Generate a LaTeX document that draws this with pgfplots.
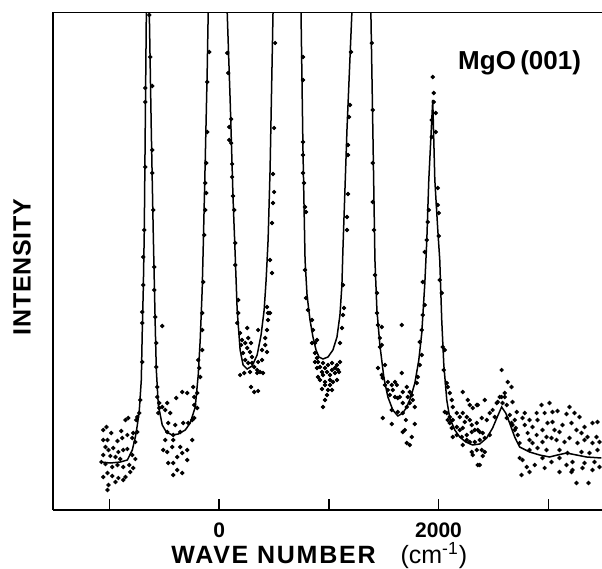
\documentclass[border=0pt]{standalone}
\usepackage{fontspec}
\setmainfont{Liberation Sans}
\usepackage{pgfplots}
\pgfplotsset{compat=1.18}

% measured points (wave number in cm^-1, intensity in arbitrary units)
\pgfplotstableread{
x y
-1028 83
-1056 80
-983 77
-892 79
-855 90
-828 92
-783 77
-1056 70
-1019 70
-928 69
-883 72
-837 75
-792 72
-764 68
-1037 63
-1010 60
-965 62
-919 58
-874 60
-837 61
-1056 55
-992 54
-946 53
-901 51
-792 55
-764 51
-1074 48
-1037 46
-974 43
-928 45
-874 43
-819 45
-783 42
-1019 37
-974 34
-919 32
-855 33
-810 38
-1056 33
-946 28
-874 30
-1010 25
-1019 20
-746 78
-755 90
-746 93
-728 97
-719 110
-701 148
-701 187
-701 198
-692 225
-692 253
-683 280
-673 343
-673 408
-673 422
-637 495
-628 453
-610 424
-610 360
-610 337
-601 300
-592 243
-592 220
-582 193
-573 167
-573 143
-564 123
-564 113
-546 107
-546 102
-555 97
-519 184
-519 103
-473 107
-491 100
-446 97
-464 87
-391 112
-337 118
-291 117
-237 123
-228 113
-191 150
-182 142
-173 133
-200 102
-228 92
-246 90
-282 87
-328 87
-355 78
-400 85
-419 75
-419 70
-428 63
-473 78
-491 70
-510 60
-473 58
-464 47
-419 47
-382 53
-355 63
-337 57
-291 60
-291 50
-246 70
-337 37
-419 35
-382 40
-155 160
-155 180
-146 228
-155 197
-200 117
-228 105
-91 458
-109 428
-109 378
-118 347
-127 327
-118 317
-127 300
-137 275
73 457
82 437
109 391
91 383
91 370
109 367
118 346
118 333
127 314
137 300
146 267
146 245
173 210
173 197
164 187
191 177
209 170
255 182
200 165
237 167
264 172
255 162
291 167
282 158
218 157
237 150
300 153
300 147
264 147
191 135
228 137
282 138
319 143
346 140
355 148
373 138
400 137
346 137
391 150
419 165
437 158
419 172
437 180
355 180
437 203
446 197
464 197
446 190
291 123
319 118
355 119
464 250
482 237
391 160
510 467
501 382
491 336
501 318
491 307
482 287
764 453
764 430
764 368
764 355
764 337
774 327
783 303
792 298
783 240
792 212
810 200
846 190
855 180
846 167
874 167
892 170
874 157
892 152
901 148
874 148
919 143
946 147
965 142
992 145
1028 147
1074 145
1101 148
892 142
937 138
983 138
1028 140
1056 142
1083 140
901 133
946 135
1010 135
1056 137
1092 138
919 130
965 128
1010 130
1037 128
1074 130
965 125
1010 125
937 121
992 120
1028 120
983 115
965 110
946 103
1101 167
1119 182
1128 195
1138 202
1128 225
1201 458
1192 405
1183 393
1174 365
1174 355
1174 316
1165 293
1165 280
1392 467
1401 400
1401 347
1401 308
1411 280
1420 235
1438 217
1447 185
1465 172
1438 197
1483 183
1465 163
1483 165
1447 142
1511 145
1483 135
1492 132
1538 128
1511 125
1574 125
1602 128
1538 120
1583 120
1620 125
1556 115
1602 113
1629 112
1647 113
1674 118
1711 123
1738 118
1756 115
1720 113
1765 110
1674 107
1711 103
1738 107
1784 103
1574 100
1629 98
1674 97
1492 92
1574 86
1702 90
1784 86
1674 78
1693 80
1756 73
1711 67
1738 65
1665 185
1665 137
1802 127
1811 133
1829 145
1829 168
1847 180
1856 195
1875 205
1847 155
1856 228
1875 258
1947 433
1957 417
1957 408
1975 397
1938 390
1975 378
1938 373
1911 300
1902 288
1893 270
1993 322
1993 305
2002 297
2002 274
2011 230
2029 217
2038 163
2057 160
2075 127
2084 123
2048 140
2102 117
2220 118
2120 110
2057 98
2129 103
2166 97
2102 93
2084 90
2102 87
2129 90
2193 93
2220 97
2257 93
2284 105
2311 102
2357 105
2421 110
2239 88
2284 90
2302 85
2348 87
2393 92
2439 90
2466 97
2493 100
2512 93
2530 107
2539 108
2575 113
2603 117
2584 107
2621 105
2630 128
2666 123
2575 140
2120 82
2166 83
2193 80
2220 82
2166 75
2211 73
2257 75
2302 78
2330 80
2357 80
2375 78
2402 77
2257 70
2284 68
2330 68
2375 70
2421 72
2466 75
2302 58
2348 60
2393 60
2421 58
2402 54
2311 55
2357 45
2648 95
2675 85
2694 80
2666 87
2621 92
2557 113
2603 113
2675 108
2348 105
2266 110
2075 97
2129 73
2220 65
2375 45
2939 105
3012 107
3194 103
2712 98
2785 97
2894 97
2967 97
3039 98
3085 99
3167 96
3240 97
3285 93
3403 87
3449 88
2694 90
2766 92
2830 90
2903 90
2994 87
3039 88
3130 85
3212 87
3331 83
2703 82
2785 85
2857 83
2948 80
3058 80
3103 78
3258 80
3303 77
3358 73
3440 73
2721 75
2812 77
2894 75
2985 73
3030 72
3076 70
3149 68
3194 72
3267 67
3331 70
3403 67
3467 68
2739 67
2830 70
2857 67
2948 68
2830 60
2903 62
2985 60
3103 60
3176 57
3303 58
3376 57
3449 60
2766 50
2948 52
3030 48
3103 52
3221 48
3331 47
3422 48
2803 43
2876 45
2967 42
3167 45
3221 40
3312 42
3403 40
3467 43
2757 35
2830 38
3103 38
3212 38
3258 27
3367 27
2739 52
}\measured

% fitted curve
\pgfplotstableread{
x y
-1083 48
-992 47
-901 48
-837 50
-792 60
-764 73
-746 85
-728 100
-710 130
-701 180
-692 220
-683 277
-664 498
-652 560
-637 498
-619 380
-601 277
-582 180
-573 140
-555 105
-519 85
-482 78
-428 75
-373 76
-309 80
-264 87
-218 103
-191 135
-173 170
-155 220
-146 260
-127 350
-109 440
-100 498
-20 790
73 498
100 410
127 310
146 255
164 200
191 160
218 145
255 141
300 144
346 155
382 175
410 200
428 230
446 270
464 340
491 498
619 1010
746 498
764 360
783 250
801 215
828 190
855 173
883 160
910 153
946 151
992 153
1037 160
1074 173
1101 195
1119 225
1128 260
1165 380
1210 498
1310 850
1383 498
1401 380
1420 250
1438 200
1465 165
1502 132
1538 113
1583 100
1629 94
1674 97
1711 103
1747 113
1784 127
1820 150
1847 177
1875 227
1893 270
1911 330
1929 370
1947 410
1966 330
1993 280
2011 250
2029 190
2048 145
2075 110
2102 92
2148 80
2193 73
2248 68
2311 65
2375 66
2439 72
2493 82
2539 94
2575 103
2612 97
2648 87
2694 73
2739 63
2830 58
2921 55
3012 53
3085 55
3167 57
3258 55
3349 53
3485 52
}\fitted

\begin{document}
\begin{tikzpicture}
\begin{axis}[
  width=274.5pt, height=249pt, scale only axis,
  xmin=-1515, xmax=3490, ymin=0, ymax=498,
  axis lines*=left,
  axis line style={line width=0.9pt},
  xtick={-1000,0,1000,2000,3000},
  xticklabels={{},\textbf{0},{},\textbf{2000},{}},
  ytick=\empty,
  tick align=inside,
  major tick length=5.5pt,
  tick style={line width=0.7pt, black},
  /pgf/number format/assume math mode=true,
  xticklabel style={font=\bfseries\fontsize{10.5}{12}\selectfont,
                    anchor=north, inner sep=0pt, yshift=-6pt},
  xlabel={{\bfseries\addfontfeatures{LetterSpace=7}WAVE NUMBER}\quad(cm\textsuperscript{-1})},
  xlabel style={font=\fontsize{12.5}{14}\selectfont,
                at={(axis description cs:0.485,0)}, anchor=north,
                inner sep=0pt, yshift=-16pt},
  ylabel={{\bfseries\addfontfeatures{LetterSpace=3}INTENSITY}},
  ylabel style={font=\fontsize{12.5}{14}\selectfont,
                at={(axis description cs:-0.0565,0.488)}, anchor=center,
                inner sep=0pt},
  clip=true,
]
\addplot[black, line width=0.75pt] table {\fitted};
\addplot[only marks, mark=*, mark size=0.9pt, black] table {\measured};
\node[font=\bfseries\fontsize{13}{15}\selectfont, inner sep=0pt]
  at (axis cs:2739,447) {MgO\,(001)};
\draw[line width=0.9pt] (rel axis cs:0,1) -- (rel axis cs:1,1);
\end{axis}
\pgfresetboundingbox
\useasboundingbox (-26.5pt,-29.5pt) rectangle (274.5pt,255pt);
\end{tikzpicture}
\end{document}
